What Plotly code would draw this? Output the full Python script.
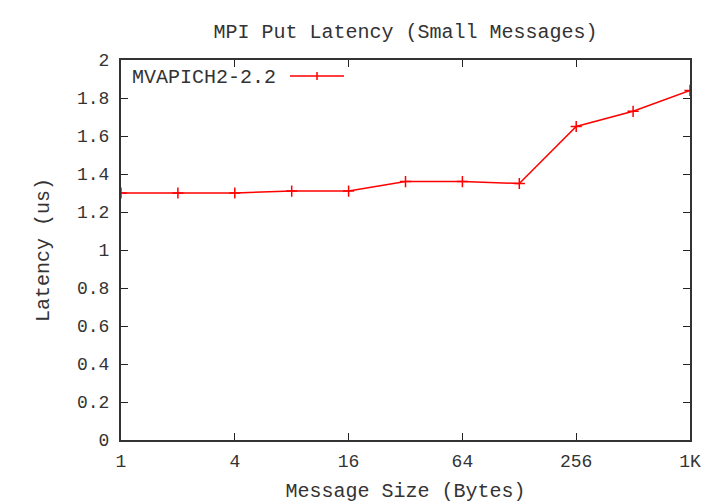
import plotly.graph_objects as go

sizes = [1, 2, 4, 8, 16, 32, 64, 128, 256, 512, 1024]
latency = [1.30, 1.30, 1.30, 1.31, 1.31, 1.36, 1.36, 1.35, 1.65, 1.73, 1.84]
x_tickvals = [1, 4, 16, 64, 256, 1024]
x_ticktext = ["1", "4", "16", "64", "256", "1K"]
y_tickvals = [0, 0.2, 0.4, 0.6, 0.8, 1, 1.2, 1.4, 1.6, 1.8, 2]
y_ticktext = ["0", "0.2", "0.4", "0.6", "0.8", "1", "1.2", "1.4", "1.6", "1.8", "2"]
series_name = "MVAPICH2-2.2"

FONT = "Liberation Mono, DejaVu Sans Mono, monospace"
RED = "#ff0000"
TXT = "#333333"

fig = go.Figure()
fig.add_trace(go.Scatter(
    x=sizes, y=latency, mode="lines+markers", name=series_name,
    line=dict(color=RED, width=1.5),
    marker=dict(symbol="cross-thin", size=8, line=dict(color=RED, width=1.5)),
    showlegend=False,
))

# page body has an 8px margin; compensate so plot area lands at 121..690 x 60..440
OFF = 8
W, H = 712, 496
L, R, T, B = 121 - OFF, 30, 60 - OFF, 64

PW = 690 - 121
PH = 440 - 60
def px(x):
    return (x - 121) / PW
def py(y):
    return 1 - (y - 60) / PH

# legend (gnuplot style: text then sample)
fig.add_annotation(text=series_name, xref="paper", yref="paper",
                   x=px(278), y=py(77), xanchor="right", yanchor="middle",
                   showarrow=False, font=dict(family=FONT, size=20, color=TXT))
fig.add_shape(type="line", xref="paper", yref="paper",
              x0=px(290), x1=px(344), y0=py(76), y1=py(76),
              line=dict(color=RED, width=1.5))
fig.add_shape(type="line", xref="paper", yref="paper",
              x0=px(317), x1=px(317), y0=py(72), y1=py(80),
              line=dict(color=RED, width=1.5))

fig.update_layout(
    width=W, height=H,
    margin=dict(l=L, r=R, t=T, b=B, autoexpand=False),
    paper_bgcolor="white", plot_bgcolor="white",
    font=dict(family=FONT, size=18, color=TXT),
    title=dict(text="MPI Put Latency (Small Messages)", x=0.5, xref="paper",
               y=1 - (31 - OFF) / H, yref="container", yanchor="middle",
               font=dict(family=FONT, size=20, color=TXT)),
)
fig.update_xaxes(
    type="log", range=[0, 3.0103], automargin=False,
    tickvals=x_tickvals, ticktext=x_ticktext,
    ticks="inside", ticklen=7, tickwidth=1, tickcolor="#222",
    ticklabelstandoff=3,
    showline=True, linecolor="#333", linewidth=2, mirror="ticks",
    showgrid=False, zeroline=False,
    title=dict(text="Message Size (Bytes)", standoff=12, font=dict(family=FONT, size=20, color=TXT)),
)
fig.update_yaxes(
    range=[0, 2], automargin=False, tickvals=y_tickvals, ticktext=y_ticktext,
    ticks="inside", ticklen=7, tickwidth=1, tickcolor="#222",
    ticklabelstandoff=6,
    showline=True, linecolor="#333", linewidth=2, mirror="ticks",
    showgrid=False, zeroline=False,
    title=dict(text="Latency (us)", standoff=22, font=dict(family=FONT, size=20, color=TXT)),
)

fig.write_html("out.html")
